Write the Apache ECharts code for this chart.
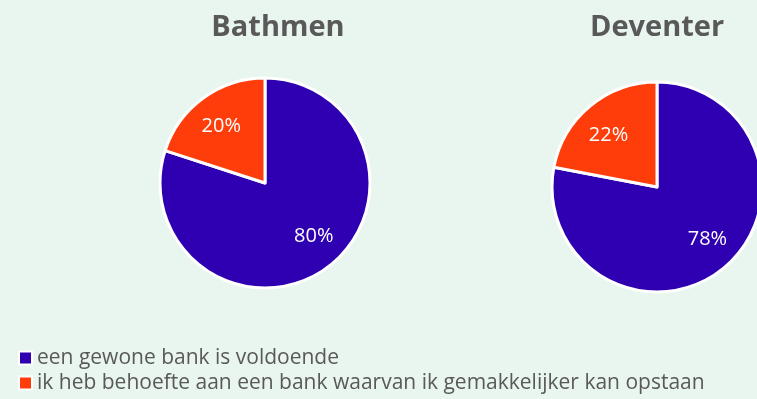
<!DOCTYPE html>
<html>
<head>
<meta charset="utf-8">
<script src="https://cdn.jsdelivr.net/npm/echarts@6/dist/echarts.min.js"></script>
<style>
  html, body { margin: 0; padding: 0; background: #E9F6EF; }
  #chart { width: 757px; height: 399px; }
</style>
</head>
<body>
<div id="chart"></div>
<script>
// Answer categories and colours
const categories = ['een gewone bank is voldoende', 'ik heb behoefte aan een bank waarvan ik gemakkelijker kan opstaan'];
const palette = ['#2E00B1', '#FF3D0A'];

// Share of respondents per location (%)
const bathmenValues = [80, 20];
const deventerValues = [78, 22];

const places = ['Bathmen', 'Deventer'];

const FONT = '"Open Sans", "DejaVu Sans", sans-serif';
const GREY = '#595959';

// Layout of each pie; labelShift fine-tunes where the percentage sits in each slice
const pies = [
  { title: places[0], values: bathmenValues, center: [265, 183], r: 105, tx: 273, labelShift: [[5, -7], [0, 3]] },
  { title: places[1], values: deventerValues, center: [657, 187], r: 105, tx: 652, labelShift: [[3, -5], [-1, 6]] }
];

const toData = vals => vals.map((v, i) => ({ name: categories[i], value: v, itemStyle: { color: palette[i] } }));

const series = [];
pies.forEach(p => {
  // visible slices
  series.push({
    type: 'pie',
    name: p.title,
    center: p.center,
    radius: p.r,
    startAngle: 90,
    clockwise: true,
    silent: true,
    animation: false,
    itemStyle: { borderColor: '#ffffff', borderWidth: 3 },
    label: { show: false },
    labelLine: { show: false },
    data: toData(p.values)
  });
});
pies.forEach(p => {
  // transparent twin that places the percentage labels at about two-thirds of the radius
  series.push({
    type: 'pie',
    name: p.title + '-labels',
    center: p.center,
    radius: p.r * 1.36,
    startAngle: 90,
    clockwise: true,
    silent: true,
    animation: false,
    itemStyle: { color: 'rgba(0,0,0,0)', borderWidth: 0 },
    label: {
      show: true,
      position: 'inside',
      formatter: '{c}%',
      color: '#ffffff',
      fontFamily: FONT,
      fontSize: 20
    },
    labelLine: { show: false },
    data: p.values.map((v, i) => ({ name: categories[i], value: v, label: { offset: p.labelShift[i] } }))
  });
});

const chart = echarts.init(document.getElementById('chart'), null, { renderer: 'canvas' });
chart.setOption({
  backgroundColor: '#E9F6EF',
  animation: false,
  title: pies.map(p => ({
    text: p.title,
    left: p.tx,
    top: 8,
    textAlign: 'center',
    textStyle: { fontFamily: FONT, fontSize: 29, fontWeight: 'bold', color: GREY }
  })),
  legend: {
    orient: 'vertical',
    left: 18,
    top: 346,
    height: 120,
    padding: 0,
    itemWidth: 13,
    itemHeight: 13,
    itemGap: 1,
    icon: 'rect',
    selectedMode: false,
    textStyle: { fontFamily: FONT, fontSize: 21, lineHeight: 24, color: GREY, padding: [0, 0, 0, 0] },
    data: categories.map((c, i) => ({ name: c, itemStyle: { color: palette[i], borderColor: '#ffffff', borderWidth: 2 } }))
  },
  series: series
});
</script>
</body>
</html>
